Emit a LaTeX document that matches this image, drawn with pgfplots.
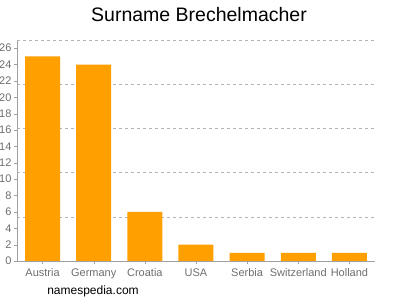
\documentclass[border=0pt]{standalone}
\usepackage{fontspec}
\setmainfont{Liberation Sans}
\usepackage{pgfplots}
\pgfplotsset{compat=1.18}
\definecolor{barc}{HTML}{FFA000}
\definecolor{tickc}{HTML}{6E6E6E}
\definecolor{axc}{HTML}{A0A0A0}
\definecolor{gridc}{HTML}{B4B4B4}
\begin{document}
\begin{tikzpicture}[x=1pt,y=1pt]
\useasboundingbox (0,0) rectangle (400,300);
\node[font=\fontsize{19.5}{22}\selectfont, anchor=center] at (199,285) {Surname Brechelmacher};
\node[font=\fontsize{12}{14}\selectfont, anchor=center] at (93,9) {namespedia.com};
\begin{axis}[at={(17pt,39pt)}, anchor=south west, scale only axis,
  width=358pt, height=221pt,
  xmin=-0.5, xmax=6.5, ymin=0, ymax=27,
  axis x line*=bottom, axis y line*=left,
  axis line style={draw=axc},
  xtick={0,...,6},
  xticklabels={Austria,Germany,Croatia,USA,Serbia,Switzerland,Holland},
  ytick={0,2,...,26},
  tick style={draw=axc},
  tick align=outside, major tick length=3pt,
  ticklabel style={font=\fontsize{11}{12}\selectfont, text=tickc},
  xticklabel style={yshift=-1pt},
  yticklabel style={xshift=1pt},
  /pgf/number format/assume math mode=true,
  extra y ticks={5.4,10.8,16.2,21.6,27},
  extra y tick labels={},
  extra y tick style={grid=major, major grid style={dashed, draw=gridc}, major tick length=0pt},
  ybar, bar width=35pt,
]
\addplot[fill=barc, draw=none] coordinates {(0,25) (1,24) (2,6) (3,2) (4,1) (5,1) (6,1)};
\end{axis}
\end{tikzpicture}
\end{document}
